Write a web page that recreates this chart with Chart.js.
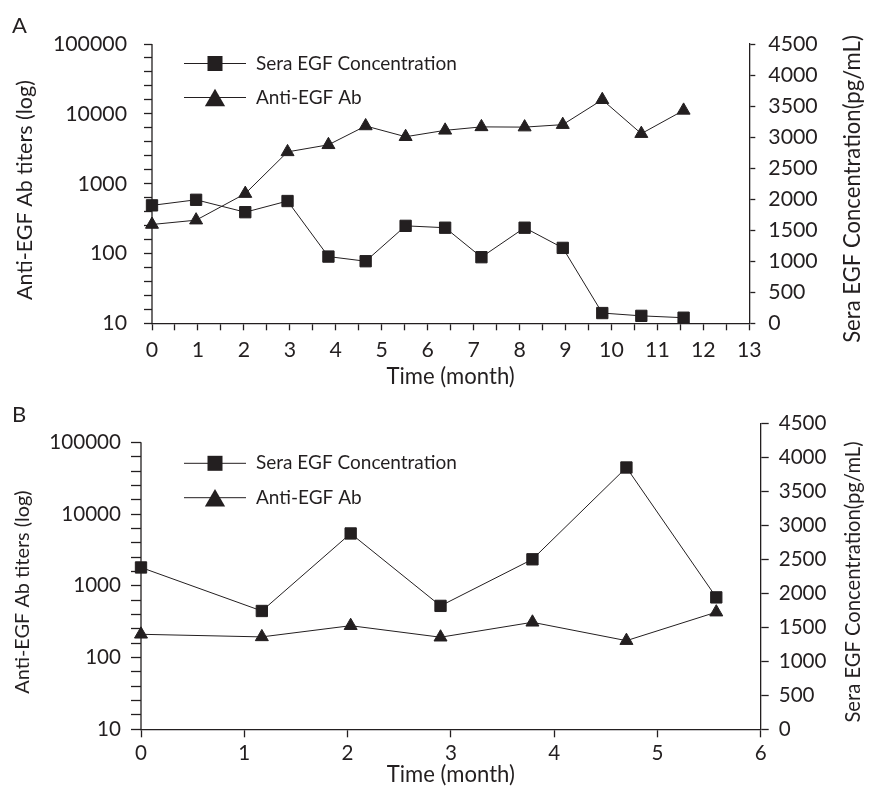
<!DOCTYPE html>
<html>
<head>
<meta charset="utf-8">
<script src="https://cdn.jsdelivr.net/npm/chart.js@4.4.0/dist/chart.umd.min.js"></script>
<style>
  html, body { margin: 0; padding: 0; background: #fff; }
  #wrap { position: relative; width: 878px; height: 788px; font-family: Lato, "Noto Sans", sans-serif; color: #231f20; }
  canvas { position: absolute; left: 0; }
  #chartA { top: 0; }
  #chartB { top: 392px; }
  .panel { position: absolute; left: 12px; font-size: 22px; line-height: 1; }
</style>
</head>
<body>
<div id="wrap">
  <canvas id="chartA" width="878" height="392"></canvas>
  <canvas id="chartB" width="878" height="396"></canvas>
  <div class="panel" style="top:14px">A</div>
  <div class="panel" style="top:403px">B</div>
</div>
<script>
// panel A: time in months, sera EGF (pg/mL), anti-EGF Ab titers
const timeA = [0, 0.96, 2.03, 2.95, 3.84, 4.65, 5.52, 6.38, 7.17, 8.11, 8.94, 9.80, 10.65, 11.57];
const seraA = [1900, 1990, 1790, 1970, 1075, 1000, 1570, 1540, 1065, 1540, 1215, 165, 120, 90];
const abA = [260, 300, 720, 2850, 3600, 6700, 4700, 5800, 6500, 6450, 7000, 15900, 5200, 11200];

// panel B
const timeB = [0, 1.17, 2.03, 2.9, 3.79, 4.7, 5.57];
const seraB = [2380, 1740, 2880, 1815, 2500, 3850, 1940];
const abB = [211, 194, 278, 192, 310, 172, 429];

// axis ticks
const abDecades = [10, 100, 1000, 10000, 100000];
const seraStep = 500;

const seriesNames = ['Sera EGF Concentration', 'Anti-EGF Ab'];
const leftTitle = 'Anti-EGF Ab titers (log)';
const rightTitle = 'Sera EGF Concentration(pg/mL)';
const xTitle = 'Time (month)';
const INK = '#231f20';
const FONT = 'Lato, "Noto Sans", sans-serif';

// font size that makes a text about as wide as in the reference
const measure = document.createElement('canvas').getContext('2d');
function fit(text, width) {
  measure.font = '100px ' + FONT;
  return Math.round(1000 * width / measure.measureText(text).width) / 10;
}

function logTicks() {
  const t = [];
  abDecades.forEach((d, i) => {
    t.push(d);
    if (i < abDecades.length - 1) for (let k = 1; k < 5; k++) t.push(d * Math.pow(10, k / 5));
  });
  return t;
}

function pts(xs, ys) { return xs.map((x, i) => ({ x: x, y: ys[i] })); }

function square(ctx, x, y, s) { ctx.fillRect(x - s / 2, y - s / 2, s, s); }
function triangle(ctx, x, y, r) {
  ctx.beginPath();
  for (let i = 0; i < 3; i++) {
    const a = i * 2 * Math.PI / 3;
    ctx.lineTo(x + Math.sin(a) * r, y - Math.cos(a) * r);
  }
  ctx.closePath();
  ctx.fill();
}

function makeDecor(o) {
  return {
    id: 'decor',
    afterDraw(chart) {
      const ctx = chart.ctx;
      const ab = chart.scales.yAb;
      ctx.save();
      ctx.fillStyle = INK;
      ctx.strokeStyle = INK;
      // left axis line only from 10 to 100000
      ctx.lineWidth = 1.3;
      ctx.beginPath();
      ctx.moveTo(chart.chartArea.left, ab.getPixelForValue(100000));
      ctx.lineTo(chart.chartArea.left, chart.chartArea.bottom);
      ctx.stroke();
      // legend
      ctx.lineWidth = 1;
      ctx.font = o.legendSize + 'px ' + FONT;
      ctx.textAlign = 'left';
      ctx.textBaseline = 'middle';
      o.rows.forEach((y, i) => {
        ctx.beginPath();
        ctx.moveTo(o.lx0, y);
        ctx.lineTo(o.lx1, y);
        ctx.stroke();
        const cx = (o.lx0 + o.lx1) / 2;
        if (i === 0) square(ctx, cx, y, 15); else triangle(ctx, cx, y + 3, 11.7);
        ctx.fillText(seriesNames[i], o.tx, y);
      });
      // rotated axis titles
      ctx.textAlign = 'center';
      [[o.left, o.leftSize, leftTitle], [o.right, o.rightSize, rightTitle]].forEach(([p, sz, t]) => {
        ctx.save();
        ctx.font = sz + 'px ' + FONT;
        ctx.translate(p[0], p[1]);
        ctx.rotate(-Math.PI / 2);
        ctx.fillText(t, 0, 0);
        ctx.restore();
      });
      ctx.restore();
    }
  };
}

function makeChart(id, d) {
  const tickFont = { family: FONT, size: d.tickSize };
  return new Chart(document.getElementById(id), {
    type: 'line',
    data: {
      datasets: [{
        label: seriesNames[0],
        data: pts(d.time, d.sera),
        yAxisID: 'ySera',
        borderColor: INK, borderWidth: 1,
        pointStyle: 'rect', pointRadius: 8,
        pointBackgroundColor: INK, pointBorderColor: INK, pointBorderWidth: 1,
        clip: false
      }, {
        label: seriesNames[1],
        data: pts(d.time, d.ab),
        yAxisID: 'yAb',
        borderColor: INK, borderWidth: 1,
        pointStyle: 'triangle', pointRadius: 7.5,
        pointBackgroundColor: INK, pointBorderColor: INK, pointBorderWidth: 1,
        clip: false
      }]
    },
    options: {
      responsive: false,
      animation: false,
      events: [],
      layout: { padding: { top: d.top, left: 0, right: 0, bottom: 0 } },
      plugins: { legend: { display: false }, tooltip: { enabled: false } },
      scales: {
        x: {
          type: 'linear', min: 0, max: d.xMax,
          ticks: {
            stepSize: d.xStep, autoSkip: false, padding: d.xPad, color: INK, font: tickFont, maxRotation: 0,
            callback: v => Number.isInteger(v) ? String(v) : ''
          },
          grid: { drawOnChartArea: false, tickLength: d.xTick, color: INK, tickWidth: 1.3 },
          border: { color: INK, width: 1.3 },
          title: { display: true, text: xTitle, color: INK, font: { family: FONT, size: fit(xTitle, 128) }, padding: { top: 0, bottom: d.xTitlePad } },
          afterFit: s => { s.height = d.xHeight; }
        },
        yAb: {
          type: 'logarithmic', position: 'left', min: 10, max: d.abMax,
          afterBuildTicks: s => { s.ticks = logTicks().map(v => ({ value: v })); },
          ticks: {
            autoSkip: false, padding: d.lPad, color: INK, font: tickFont,
            callback: v => abDecades.includes(v) ? String(v) : ''
          },
          grid: { drawOnChartArea: false, tickLength: d.lTick, color: INK, tickWidth: 1.3 },
          border: { display: false },
          afterFit: s => { s.width = d.leftW; }
        },
        ySera: {
          type: 'linear', position: 'right', min: 0, max: 4500,
          ticks: { stepSize: seraStep, autoSkip: false, padding: d.rPad, color: INK, font: tickFont, callback: v => String(v) },
          grid: { drawOnChartArea: false, tickLength: d.rTick, color: INK, tickWidth: 1.3 },
          border: { color: INK, width: 1.3 },
          afterFit: s => { s.width = d.rightW; }
        }
      }
    },
    plugins: [makeDecor(d.decor)]
  });
}

makeChart('chartA', {
  time: timeA, sera: seraA, ab: abA,
  xMax: 13, xStep: 0.5, abMax: 100000,
  top: 44, xHeight: 68.7, leftW: 152, rightW: 128.7,
  tickSize: fit('100000', 74),
  xPad: 7, xTick: 7, xTitlePad: 2, lPad: 17, lTick: 8, rPad: 13, rTick: 6,
  decor: { lx0: 184, lx1: 246, tx: 256, rows: [63.5, 97.5], legendSize: fit(seriesNames[0], 201),
           left: [25, 190], leftSize: fit(leftTitle, 220), right: [853, 189], rightSize: fit(rightTitle, 308) }
});

makeChart('chartB', {
  time: timeB, sera: seraB, ab: abB,
  xMax: 6, xStep: 1, abMax: 184000,
  top: 31.3, xHeight: 58.7, leftW: 141, rightW: 117.3,
  tickSize: fit('100000', 71.7),
  xPad: 3.5, xTick: 8, xTitlePad: 0, lPad: 10, lTick: 10, rPad: 10, rTick: 8,
  decor: { lx0: 184, lx1: 246, tx: 256, rows: [71.3, 105.7], legendSize: fit(seriesNames[0], 201),
           left: [23, 200], leftSize: fit(leftTitle, 203), right: [853, 190], rightSize: fit(rightTitle, 281) }
});
</script>
</body>
</html>
